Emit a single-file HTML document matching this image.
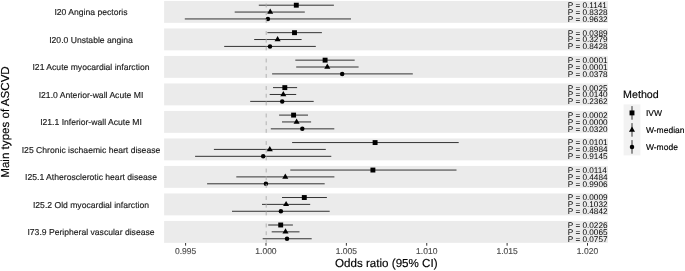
<!DOCTYPE html><html><head><meta charset="utf-8"><style>html,body{margin:0;padding:0;background:#fff;}svg{display:block;will-change:transform;}text{font-family:"Liberation Sans",sans-serif;text-rendering:geometricPrecision;}</style></head><body>
<svg width="685" height="271" viewBox="0 0 685 271">
<rect width="685" height="271" fill="#fff"/>
<rect x="164.1" y="0.95" width="443.9" height="21.9" fill="#EBEBEB"/>
<text x="91" y="12.2" font-size="8.6" fill="#1A1A1A" stroke="#1A1A1A" stroke-width="0.15" text-anchor="middle" dominant-baseline="central">I20 Angina pectoris</text>
<path d="M258.8 5.2H333.9" stroke="#333333" stroke-width="1"/>
<rect x="293.85" y="2.75" width="4.9" height="4.9"/>
<text x="567.8" y="8.1" font-size="8.2" fill="black">P = 0.1141</text>
<path d="M234.7 12.05H304.8" stroke="#333333" stroke-width="1"/>
<path d="M270.2 8.55L273.23 13.8L267.17 13.8Z"/>
<text x="567.8" y="14.95" font-size="8.2" fill="black">P = 0.8328</text>
<path d="M184.8 18.95H351" stroke="#333333" stroke-width="1"/>
<circle cx="267.9" cy="18.95" r="2.25"/>
<text x="567.8" y="21.85" font-size="8.2" fill="black">P = 0.9632</text>
<path d="M266.2 22.85V0.95" stroke="#ABABAB" stroke-width="0.9" stroke-dasharray="3.9 3.8" fill="none"/>
<rect x="164.1" y="28.45" width="443.9" height="21.9" fill="#EBEBEB"/>
<text x="91" y="39.7" font-size="8.6" fill="#1A1A1A" stroke="#1A1A1A" stroke-width="0.15" text-anchor="middle" dominant-baseline="central">I20.0 Unstable angina</text>
<path d="M267.4 32.67H321.9" stroke="#333333" stroke-width="1"/>
<rect x="292.05" y="30.22" width="4.9" height="4.9"/>
<text x="567.8" y="35.57" font-size="8.2" fill="black">P = 0.0389</text>
<path d="M254.2 39.52H301.6" stroke="#333333" stroke-width="1"/>
<path d="M277.6 36.03L280.63 41.27L274.57 41.27Z"/>
<text x="567.8" y="42.42" font-size="8.2" fill="black">P = 0.3279</text>
<path d="M224.2 46.42H315.8" stroke="#333333" stroke-width="1"/>
<circle cx="270" cy="46.42" r="2.25"/>
<text x="567.8" y="49.32" font-size="8.2" fill="black">P = 0.8428</text>
<path d="M266.2 50.35V28.45" stroke="#ABABAB" stroke-width="0.9" stroke-dasharray="3.9 3.8" fill="none"/>
<rect x="164.1" y="55.95" width="443.9" height="21.9" fill="#EBEBEB"/>
<text x="91" y="67.2" font-size="8.6" fill="#1A1A1A" stroke="#1A1A1A" stroke-width="0.15" text-anchor="middle" dominant-baseline="central">I21 Acute myocardial infarction</text>
<path d="M295.3 60.15H354.7" stroke="#333333" stroke-width="1"/>
<rect x="322.65" y="57.7" width="4.9" height="4.9"/>
<text x="567.8" y="63.05" font-size="8.2" fill="black">P = 0.0001</text>
<path d="M296.2 67H358.6" stroke="#333333" stroke-width="1"/>
<path d="M327.3 63.5L330.33 68.75L324.27 68.75Z"/>
<text x="567.8" y="69.9" font-size="8.2" fill="black">P = 0.0001</text>
<path d="M272.1 73.9H412.8" stroke="#333333" stroke-width="1"/>
<circle cx="342.2" cy="73.9" r="2.25"/>
<text x="567.8" y="76.8" font-size="8.2" fill="black">P = 0.0378</text>
<path d="M266.2 77.85V55.95" stroke="#ABABAB" stroke-width="0.9" stroke-dasharray="3.9 3.8" fill="none"/>
<rect x="164.1" y="83.45" width="443.9" height="21.9" fill="#EBEBEB"/>
<text x="91" y="94.7" font-size="8.6" fill="#1A1A1A" stroke="#1A1A1A" stroke-width="0.15" text-anchor="middle" dominant-baseline="central">I21.0 Anterior-wall Acute MI</text>
<path d="M273 87.62H297.1" stroke="#333333" stroke-width="1"/>
<rect x="282.35" y="85.17" width="4.9" height="4.9"/>
<text x="567.8" y="90.53" font-size="8.2" fill="black">P = 0.0025</text>
<path d="M269.7 94.48H296.2" stroke="#333333" stroke-width="1"/>
<path d="M283.3 90.98L286.33 96.22L280.27 96.22Z"/>
<text x="567.8" y="97.38" font-size="8.2" fill="black">P = 0.0140</text>
<path d="M250.2 101.38H313.7" stroke="#333333" stroke-width="1"/>
<circle cx="282.2" cy="101.38" r="2.25"/>
<text x="567.8" y="104.28" font-size="8.2" fill="black">P = 0.2362</text>
<path d="M266.2 105.35V83.45" stroke="#ABABAB" stroke-width="0.9" stroke-dasharray="3.9 3.8" fill="none"/>
<rect x="164.1" y="110.95" width="443.9" height="21.9" fill="#EBEBEB"/>
<text x="91" y="122.2" font-size="8.6" fill="#1A1A1A" stroke="#1A1A1A" stroke-width="0.15" text-anchor="middle" dominant-baseline="central">I21.1 Inferior-wall Acute MI</text>
<path d="M279.1 115.1H308" stroke="#333333" stroke-width="1"/>
<rect x="291.15" y="112.65" width="4.9" height="4.9"/>
<text x="567.8" y="118" font-size="8.2" fill="black">P = 0.0002</text>
<path d="M282 121.95H311.1" stroke="#333333" stroke-width="1"/>
<path d="M296.6 118.45L299.63 123.7L293.57 123.7Z"/>
<text x="567.8" y="124.85" font-size="8.2" fill="black">P = 0.0000</text>
<path d="M270.8 128.85H334.3" stroke="#333333" stroke-width="1"/>
<circle cx="302.3" cy="128.85" r="2.25"/>
<text x="567.8" y="131.75" font-size="8.2" fill="black">P = 0.0320</text>
<path d="M266.2 132.85V110.95" stroke="#ABABAB" stroke-width="0.9" stroke-dasharray="3.9 3.8" fill="none"/>
<rect x="164.1" y="138.45" width="443.9" height="21.9" fill="#EBEBEB"/>
<text x="91" y="149.7" font-size="8.6" fill="#1A1A1A" stroke="#1A1A1A" stroke-width="0.15" text-anchor="middle" dominant-baseline="central">I25 Chronic ischaemic heart disease</text>
<path d="M292.1 142.57H458.7" stroke="#333333" stroke-width="1"/>
<rect x="372.65" y="140.12" width="4.9" height="4.9"/>
<text x="567.8" y="145.47" font-size="8.2" fill="black">P = 0.0101</text>
<path d="M213.9 149.42H325.8" stroke="#333333" stroke-width="1"/>
<path d="M269.8 145.93L272.83 151.17L266.77 151.17Z"/>
<text x="567.8" y="152.32" font-size="8.2" fill="black">P = 0.8984</text>
<path d="M195.1 156.32H331.3" stroke="#333333" stroke-width="1"/>
<circle cx="263.2" cy="156.32" r="2.25"/>
<text x="567.8" y="159.22" font-size="8.2" fill="black">P = 0.9145</text>
<path d="M266.2 160.35V138.45" stroke="#ABABAB" stroke-width="0.9" stroke-dasharray="3.9 3.8" fill="none"/>
<rect x="164.1" y="165.95" width="443.9" height="21.9" fill="#EBEBEB"/>
<text x="91" y="177.2" font-size="8.6" fill="#1A1A1A" stroke="#1A1A1A" stroke-width="0.15" text-anchor="middle" dominant-baseline="central">I25.1 Atherosclerotic heart disease</text>
<path d="M290.3 170.05H456.5" stroke="#333333" stroke-width="1"/>
<rect x="370.45" y="167.6" width="4.9" height="4.9"/>
<text x="567.8" y="172.95" font-size="8.2" fill="black">P = 0.0114</text>
<path d="M236.3 176.9H334.4" stroke="#333333" stroke-width="1"/>
<path d="M285.3 173.4L288.33 178.65L282.27 178.65Z"/>
<text x="567.8" y="179.8" font-size="8.2" fill="black">P = 0.4484</text>
<path d="M207.1 183.8H324.7" stroke="#333333" stroke-width="1"/>
<circle cx="265.9" cy="183.8" r="2.25"/>
<text x="567.8" y="186.7" font-size="8.2" fill="black">P = 0.9906</text>
<path d="M266.2 187.85V165.95" stroke="#ABABAB" stroke-width="0.9" stroke-dasharray="3.9 3.8" fill="none"/>
<rect x="164.1" y="193.45" width="443.9" height="21.9" fill="#EBEBEB"/>
<text x="91" y="204.7" font-size="8.6" fill="#1A1A1A" stroke="#1A1A1A" stroke-width="0.15" text-anchor="middle" dominant-baseline="central">I25.2 Old myocardial infarction</text>
<path d="M282 197.53H326.9" stroke="#333333" stroke-width="1"/>
<rect x="301.85" y="195.08" width="4.9" height="4.9"/>
<text x="567.8" y="200.43" font-size="8.2" fill="black">P = 0.0009</text>
<path d="M262 204.38H310.2" stroke="#333333" stroke-width="1"/>
<path d="M286.1 200.88L289.13 206.12L283.07 206.12Z"/>
<text x="567.8" y="207.28" font-size="8.2" fill="black">P = 0.1032</text>
<path d="M232 211.28H329.7" stroke="#333333" stroke-width="1"/>
<circle cx="280.9" cy="211.28" r="2.25"/>
<text x="567.8" y="214.18" font-size="8.2" fill="black">P = 0.4842</text>
<path d="M266.2 215.35V193.45" stroke="#ABABAB" stroke-width="0.9" stroke-dasharray="3.9 3.8" fill="none"/>
<rect x="164.1" y="220.95" width="443.9" height="21.9" fill="#EBEBEB"/>
<text x="91" y="232.2" font-size="8.6" fill="#1A1A1A" stroke="#1A1A1A" stroke-width="0.15" text-anchor="middle" dominant-baseline="central">I73.9 Peripheral vascular disease</text>
<path d="M268.2 225H292.9" stroke="#333333" stroke-width="1"/>
<rect x="278.25" y="222.55" width="4.9" height="4.9"/>
<text x="567.8" y="227.9" font-size="8.2" fill="black">P = 0.0226</text>
<path d="M271.7 231.85H299.5" stroke="#333333" stroke-width="1"/>
<path d="M285.5 228.35L288.53 233.6L282.47 233.6Z"/>
<text x="567.8" y="234.75" font-size="8.2" fill="black">P = 0.0065</text>
<path d="M262.7 238.75H311.7" stroke="#333333" stroke-width="1"/>
<circle cx="287" cy="238.75" r="2.25"/>
<text x="567.8" y="241.65" font-size="8.2" fill="black">P = 0.0757</text>
<path d="M266.2 242.85V220.95" stroke="#ABABAB" stroke-width="0.9" stroke-dasharray="3.9 3.8" fill="none"/>
<path d="M185.6 243V245.7" stroke="#333" stroke-width="1"/>
<text x="185.6" y="254" font-size="8.5" fill="#4D4D4D" stroke="#4D4D4D" stroke-width="0.15" text-anchor="middle">0.995</text>
<path d="M265.98 243V245.7" stroke="#333" stroke-width="1"/>
<text x="265.98" y="254" font-size="8.5" fill="#4D4D4D" stroke="#4D4D4D" stroke-width="0.15" text-anchor="middle">1.000</text>
<path d="M346.36 243V245.7" stroke="#333" stroke-width="1"/>
<text x="346.36" y="254" font-size="8.5" fill="#4D4D4D" stroke="#4D4D4D" stroke-width="0.15" text-anchor="middle">1.005</text>
<path d="M426.74 243V245.7" stroke="#333" stroke-width="1"/>
<text x="426.74" y="254" font-size="8.5" fill="#4D4D4D" stroke="#4D4D4D" stroke-width="0.15" text-anchor="middle">1.010</text>
<path d="M507.12 243V245.7" stroke="#333" stroke-width="1"/>
<text x="507.12" y="254" font-size="8.5" fill="#4D4D4D" stroke="#4D4D4D" stroke-width="0.15" text-anchor="middle">1.015</text>
<path d="M587.5 243V245.7" stroke="#333" stroke-width="1"/>
<text x="587.5" y="254" font-size="8.5" fill="#4D4D4D" stroke="#4D4D4D" stroke-width="0.15" text-anchor="middle">1.020</text>
<text x="386.3" y="267.1" font-size="11.6" fill="#000" stroke="#000" stroke-width="0.15" text-anchor="middle">Odds ratio (95% CI)</text>
<text transform="translate(9.45 122) rotate(-90)" font-size="11.6" fill="#000" stroke="#000" stroke-width="0.15" text-anchor="middle">Main types of ASCVD</text>
<text x="623.1" y="97.8" font-size="10.7" fill="#000" stroke="#000" stroke-width="0.15">Method</text>
<rect x="623.6" y="104.4" width="16.8" height="51" fill="#F2F2F2"/>
<path d="M632 106.1V119.7" stroke="#333333" stroke-width="1"/>
<rect x="629.55" y="110.45" width="4.9" height="4.9"/>
<text x="645.9" y="112.9" font-size="8.5" fill="#000" stroke="#000" stroke-width="0.15" dominant-baseline="central">IVW</text>
<path d="M632 123.1V136.7" stroke="#333333" stroke-width="1"/>
<path d="M632 126.4L635.03 131.65L628.97 131.65Z"/>
<text x="645.9" y="129.9" font-size="8.5" fill="#000" stroke="#000" stroke-width="0.15" dominant-baseline="central">W-median</text>
<path d="M632 140.1V153.7" stroke="#333333" stroke-width="1"/>
<circle cx="632" cy="146.9" r="2.25"/>
<text x="645.9" y="146.9" font-size="8.5" fill="#000" stroke="#000" stroke-width="0.15" dominant-baseline="central">W-mode</text>
</svg></body></html>
